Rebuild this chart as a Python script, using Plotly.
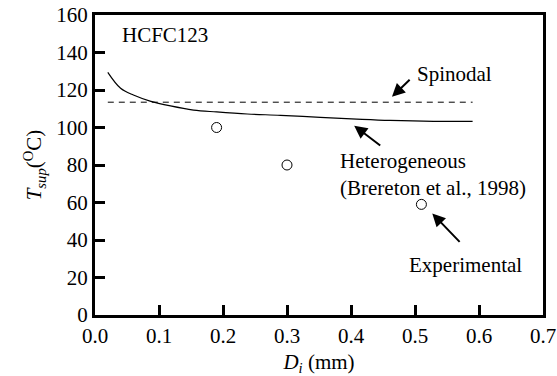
import plotly.graph_objects as go

# Heterogeneous nucleation superheat limit (Brereton et al., 1998)
het_d = [0.020, 0.040, 0.060, 0.086, 0.118, 0.154, 0.190, 0.238, 0.290, 0.352, 0.409, 0.461, 0.529, 0.590]
het_t = [129.4, 120.9, 117.3, 114.1, 111.5, 109.3, 108.3, 107.2, 106.5, 105.4, 104.5, 103.8, 103.3, 103.3]

# Spinodal limit
spin_d = [0.020, 0.590]
spin_t = [113.5, 113.5]

# Measured superheat
exp_d = [0.19, 0.30, 0.51]
exp_t = [100, 80, 59]

x_ticks = [0.0, 0.1, 0.2, 0.3, 0.4, 0.5, 0.6, 0.7]
y_ticks = [0, 20, 40, 60, 80, 100, 120, 140, 160]

FONT = "Liberation Serif"
FS = 21

fig = go.Figure()
fig.add_trace(go.Scatter(x=het_d, y=het_t, mode="lines", line=dict(color="black", width=1.2),
                         line_shape="spline", showlegend=False))
fig.add_trace(go.Scatter(x=spin_d, y=spin_t, mode="lines",
                         line=dict(color="black", width=1, dash="6px,5px"), showlegend=False))
fig.add_trace(go.Scatter(x=exp_d, y=exp_t, mode="markers",
                         marker=dict(symbol="circle-open", size=10, color="black", line=dict(width=1)),
                         showlegend=False))

def label(x, y, text):
    fig.add_annotation(x=x, y=y, text=text, showarrow=False, xanchor="left", yanchor="middle",
                       align="left", font=dict(family=FONT, size=FS, color="black"))

def arrow(hx, hy, tx, ty):
    fig.add_annotation(x=hx, y=hy, ax=tx, ay=ty, axref="x", ayref="y", xref="x", yref="y",
                       text="", showarrow=True, arrowhead=2, arrowsize=1.3, arrowwidth=2,
                       arrowcolor="black")

label(0.0395, 149.3, "HCFC123")
label(0.500, 128.5, "Spinodal")
label(0.379, 74.7, "Heterogeneous<br>(Brereton et al., 1998)")
label(0.487, 26.7, "Experimental")

arrow(0.464, 116.4, 0.494, 126.2)
arrow(0.405, 101.0, 0.448, 89.8)
arrow(0.527, 54.2, 0.572, 38.2)

axis_common = dict(showline=True, linecolor="black", linewidth=3, mirror=True,
                   ticks="inside", ticklen=10, tickwidth=2.5, tickcolor="black",
                   showgrid=False, zeroline=False, automargin=False,
                   tickfont=dict(family=FONT, size=FS, color="black"))

fig.update_xaxes(range=[0, 0.7], tickvals=x_ticks, tickformat=".1f",
                 title=dict(text="<i>D</i><sub><i>i</i></sub> (mm)", standoff=11,
                            font=dict(family=FONT, size=FS, color="black")),
                 **axis_common)
fig.update_yaxes(range=[0, 160], tickvals=y_ticks,
                 title=dict(text="<i>T</i><sub><i>sup</i></sub>(<sup>O</sup>C)", standoff=9,
                            font=dict(family=FONT, size=FS, color="black")),
                 **axis_common)

fig.update_layout(width=557, height=376, margin=dict(l=95, r=14, t=15, b=61),
                  paper_bgcolor="white", plot_bgcolor="white",
                  font=dict(family=FONT, color="black"))

fig.write_html("out.html")
